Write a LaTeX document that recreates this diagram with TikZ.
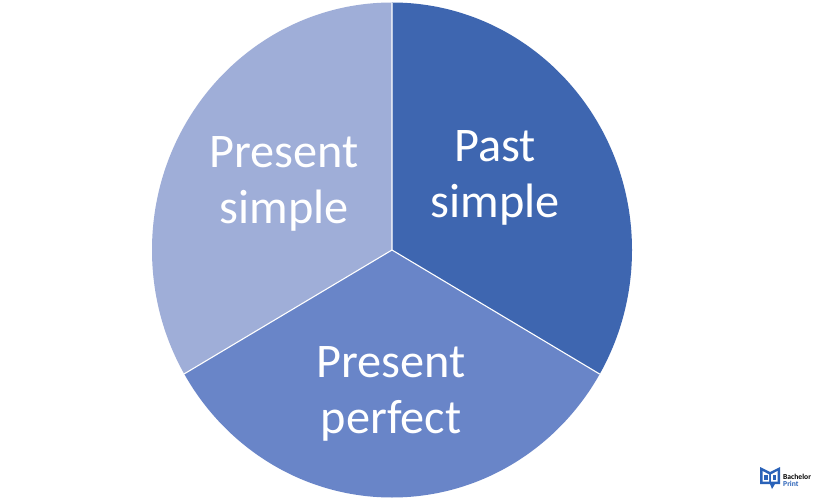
\documentclass[tikz,border=0pt]{standalone}
\usepackage{fontspec}
\setmainfont{Carlito}
\definecolor{darkB}{HTML}{3E66B0}
\definecolor{midB}{HTML}{6985C8}
\definecolor{lightB}{HTML}{9FAED8}
\definecolor{logoB}{HTML}{2A62B8}
\tikzset{
  lab/.style={text=white,align=center,font=\fontsize{48.3}{56}\selectfont,inner sep=0pt},
  logotext/.style={anchor=west,inner sep=0pt,font=\bfseries\fontsize{7.6}{7.6}\selectfont},
}
\begin{document}
\begin{tikzpicture}[x=1pt,y=-1pt]
\useasboundingbox[fill=white] (0,0) rectangle (825,500);
\coordinate (c) at (392,250);
\begin{scope}
\clip (392,250) ellipse [x radius=240,y radius=247.5];
\fill[darkB] (c) -- (392,-20) -- (700,-20) -- (700,434) -- cycle;
\fill[lightB] (c) -- (392,-20) -- (80,-20) -- (80,436) -- cycle;
\fill[midB] (c) -- (700,434) -- (700,520) -- (80,520) -- (80,436) -- cycle;
\draw[white,line width=1.1pt] (392,-20) -- (c) -- (700,434);
\draw[white,line width=1.1pt] (c) -- (80,436);
\end{scope}
\node[lab] (ps) at (284,184) {Present\\simple};
\node[lab] (pa) at (495,178) {Past\\simple};
\node[lab] (pp) at (391,394) {Present\\perfect};
% logo
\fill[logoB] (760,467) -- (760,484) -- (770,484) -- (772,489) -- (775,484) -- (780,484) -- (780,467) -- (770,472) -- cycle;
\fill[white] (762.5,471) -- (762.5,481.5) -- (769,481.5) -- (769,474.5) -- cycle;
\fill[white] (771,474.5) -- (771,481.5) -- (777.5,481.5) -- (777.5,471) -- cycle;
\fill[logoB] (764,475) rectangle (767.5,480);
\fill[logoB] (772.5,475) rectangle (776,480);
\node[logotext,text=black] (b1) at (783,476.5) {Bachelor};
\node[logotext,text=logoB] (b2) at (783,483.5) {Print};
\end{tikzpicture}
\end{document}
